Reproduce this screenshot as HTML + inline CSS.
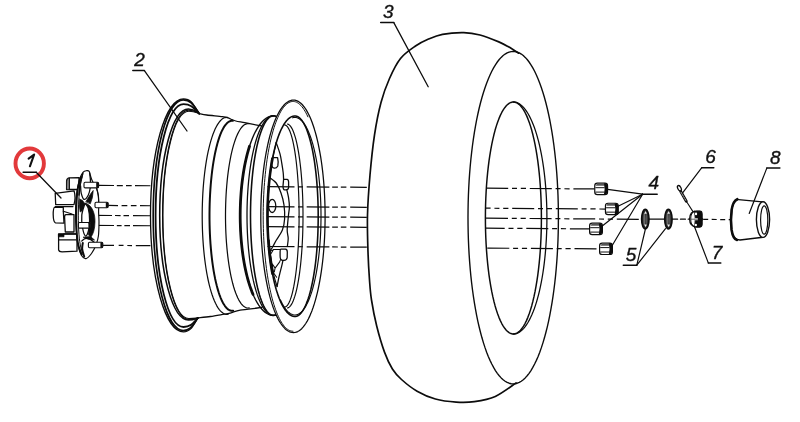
<!DOCTYPE html>
<html><head><meta charset="utf-8"><style>
html,body{margin:0;padding:0;background:#fff;width:800px;height:422px;overflow:hidden}
svg{display:block;filter:blur(0.3px)}
text{font-family:"Liberation Sans",sans-serif}
</style></head><body>
<svg width="800" height="422" viewBox="0 0 800 422" stroke-linecap="round" stroke-linejoin="round">
<rect width="800" height="422" fill="#fff"/>
<path d="M518.60,53.20 C516.92,52.13 511.80,48.68 508.50,46.80 C505.20,44.92 503.55,43.87 498.80,41.90 C494.05,39.93 485.83,36.55 480.00,35.00 C474.17,33.45 470.05,32.72 463.80,32.60 C457.55,32.48 448.47,33.18 442.50,34.30 C436.53,35.42 432.50,37.35 428.00,39.30 C423.50,41.25 420.08,42.80 415.50,46.00 C410.92,49.20 404.83,53.08 400.50,58.50 C396.17,63.92 392.75,71.17 389.50,78.50 C386.25,85.83 383.50,93.08 381.00,102.50 C378.50,111.92 376.33,122.92 374.50,135.00 C372.67,147.08 371.17,161.67 370.00,175.00 C368.83,188.33 367.83,202.17 367.50,215.00 C367.17,227.83 367.67,241.17 368.00,252.00 C368.33,262.83 368.92,272.00 369.50,280.00 C370.08,288.00 370.30,292.33 371.50,300.00 C372.70,307.67 374.53,317.32 376.70,326.00 C378.87,334.68 381.88,344.93 384.50,352.10 C387.12,359.27 389.57,364.43 392.40,369.00 C395.23,373.57 397.38,375.80 401.50,379.50 C405.62,383.20 411.45,387.95 417.10,391.20 C422.75,394.45 428.88,397.18 435.40,399.00 C441.92,400.82 449.70,401.67 456.20,402.10 C462.70,402.53 467.88,402.55 474.40,401.60 C480.92,400.65 488.35,399.52 495.30,396.40 C502.25,393.28 512.63,385.15 516.10,382.90" fill="none" stroke="#0c0c0c" stroke-width="1.68" />
<path d="M558.40,217.65 L558.35,225.11 L558.22,232.55 L557.99,239.97 L557.67,247.34 L557.27,254.64 L556.77,261.88 L556.19,269.02 L555.52,276.07 L554.76,282.99 L553.92,289.78 L553.00,296.43 L552.00,302.92 L550.92,309.24 L549.77,315.37 L548.54,321.31 L547.24,327.03 L545.87,332.54 L544.44,337.81 L542.94,342.85 L541.38,347.63 L539.77,352.15 L538.10,356.40 L536.38,360.37 L534.62,364.05 L532.81,367.44 L530.96,370.52 L529.08,373.30 L527.17,375.76 L525.22,377.91 L523.26,379.73 L521.27,381.23 L519.27,382.40 L517.25,383.23 L515.23,383.73 L513.20,383.90 L511.17,383.73 L509.15,383.23 L507.13,382.40 L505.13,381.23 L503.14,379.73 L501.18,377.91 L499.23,375.76 L497.32,373.30 L495.44,370.52 L493.59,367.44 L491.78,364.05 L490.02,360.37 L488.30,356.40 L486.63,352.15 L485.02,347.63 L483.46,342.85 L481.96,337.81 L480.53,332.54 L479.16,327.03 L477.86,321.31 L476.63,315.37 L475.48,309.24 L474.40,302.92 L473.40,296.43 L472.48,289.78 L471.64,282.99 L470.88,276.07 L470.21,269.02 L469.63,261.88 L469.13,254.64 L468.73,247.34 L468.41,239.97 L468.18,232.55 L468.05,225.11 L468.00,217.65 L468.05,210.19 L468.18,202.75 L468.41,195.33 L468.73,187.96 L469.13,180.66 L469.63,173.42 L470.21,166.28 L470.88,159.23 L471.64,152.31 L472.48,145.52 L473.40,138.87 L474.40,132.38 L475.48,126.06 L476.63,119.93 L477.86,113.99 L479.16,108.27 L480.53,102.76 L481.96,97.49 L483.46,92.45 L485.02,87.67 L486.63,83.15 L488.30,78.90 L490.02,74.93 L491.78,71.25 L493.59,67.86 L495.44,64.78 L497.32,62.00 L499.23,59.54 L501.18,57.39 L503.14,55.57 L505.13,54.07 L507.13,52.90 L509.15,52.07 L511.17,51.57 L513.20,51.40 L515.23,51.57 L517.25,52.07 L519.27,52.90 L521.27,54.07 L523.26,55.57 L525.22,57.39 L527.17,59.54 L529.08,62.00 L530.96,64.78 L532.81,67.86 L534.62,71.25 L536.38,74.93 L538.10,78.90 L539.77,83.15 L541.38,87.67 L542.94,92.45 L544.44,97.49 L545.87,102.76 L547.24,108.27 L548.54,113.99 L549.77,119.93 L550.92,126.06 L552.00,132.38 L553.00,138.87 L553.92,145.52 L554.76,152.31 L555.52,159.23 L556.19,166.28 L556.77,173.42 L557.27,180.66 L557.67,187.96 L557.99,195.33 L558.22,202.75 L558.35,210.19 L558.40,217.65" fill="none" stroke="#0c0c0c" stroke-width="1.38" />
<path d="M541.40,218.00 L541.35,224.62 L541.22,231.22 L540.99,237.78 L540.67,244.27 L540.27,250.68 L539.77,256.98 L539.19,263.16 L538.53,269.18 L537.78,275.04 L536.96,280.71 L536.05,286.18 L535.08,291.43 L534.03,296.44 L532.91,301.19 L531.74,305.67 L530.50,309.86 L529.20,313.75 L527.86,317.34 L526.47,320.59 L525.03,323.52 L523.56,326.10 L522.05,328.32 L520.52,330.19 L518.96,331.69 L517.38,332.82 L515.80,333.57 L514.20,333.95 L512.60,333.95 L511.00,333.57 L509.42,332.82 L507.84,331.69 L506.28,330.19 L504.75,328.32 L503.24,326.10 L501.77,323.52 L500.33,320.59 L498.94,317.34 L497.60,313.75 L496.30,309.86 L495.06,305.67 L493.89,301.19 L492.77,296.44 L491.72,291.43 L490.75,286.18 L489.84,280.71 L489.02,275.04 L488.27,269.18 L487.61,263.16 L487.03,256.98 L486.53,250.68 L486.13,244.27 L485.81,237.78 L485.58,231.22 L485.45,224.62 L485.40,218.00 L485.45,211.38 L485.58,204.78 L485.81,198.22 L486.13,191.73 L486.53,185.32 L487.03,179.02 L487.61,172.84 L488.27,166.82 L489.02,160.96 L489.84,155.29 L490.75,149.82 L491.72,144.57 L492.77,139.56 L493.89,134.81 L495.06,130.33 L496.30,126.14 L497.60,122.25 L498.94,118.66 L500.33,115.41 L501.77,112.48 L503.24,109.90 L504.75,107.68 L506.28,105.81 L507.84,104.31 L509.42,103.18 L511.00,102.43 L512.60,102.05 L514.20,102.05 L515.80,102.43 L517.38,103.18 L518.96,104.31 L520.52,105.81 L522.05,107.68 L523.56,109.90 L525.03,112.48 L526.47,115.41 L527.86,118.66 L529.20,122.25 L530.50,126.14 L531.74,130.33 L532.91,134.81 L534.03,139.56 L535.08,144.57 L536.05,149.82 L536.96,155.29 L537.78,160.96 L538.53,166.82 L539.19,172.84 L539.77,179.02 L540.27,185.32 L540.67,191.73 L540.99,198.22 L541.22,204.78 L541.35,211.38 L541.40,218.00" fill="none" stroke="#0c0c0c" stroke-width="1.48" />
<path d="M513.40,102.00 L514.90,102.12 L516.40,102.47 L517.90,103.05 L519.38,103.86 L520.85,104.91 L522.31,106.18 L523.75,107.68 L525.17,109.40 L526.57,111.33 L527.94,113.49 L529.27,115.85 L530.58,118.42 L531.86,121.19 L533.09,124.15 L534.29,127.31 L535.44,130.64 L536.55,134.16 L537.61,137.84 L538.63,141.68 L539.59,145.68 L540.50,149.82 L541.36,154.10 L542.16,158.50 L542.90,163.03 L543.58,167.67 L544.20,172.41 L544.76,177.24 L545.26,182.15 L545.69,187.14 L546.06,192.19 L546.36,197.29 L546.60,202.43 L546.77,207.60 L546.87,212.80 L546.90,218.00 L546.87,223.20 L546.77,228.40 L546.60,233.57 L546.36,238.71 L546.06,243.81 L545.69,248.86 L545.26,253.85 L544.76,258.76 L544.20,263.59 L543.58,268.33 L542.90,272.97 L542.16,277.50 L541.36,281.90 L540.50,286.18 L539.59,290.32 L538.63,294.32 L537.61,298.16 L536.55,301.84 L535.44,305.36 L534.29,308.69 L533.09,311.85 L531.86,314.81 L530.58,317.58 L529.27,320.15 L527.94,322.51 L526.57,324.67 L525.17,326.60 L523.75,328.32 L522.31,329.82 L520.85,331.09 L519.38,332.14 L517.90,332.95 L516.40,333.53 L514.90,333.88 L513.40,334.00" fill="none" stroke="#0c0c0c" stroke-width="1.28" />
<path d="M197.80,318.00 C192.80,326.28 190.65,331.80 183.50,331.80 A33.00,116.30 0 0 1 150.50,215.50 A33.00,116.70 0 0 1 183.50,98.80 C191.35,98.80 193.70,104.72 199.20,113.60" fill="none" stroke="#0c0c0c" stroke-width="1.33" />
<path d="M197.80,318.00 C192.69,325.50 190.50,330.50 183.20,330.50 A30.00,115.00 0 0 1 153.20,215.50 A30.00,115.60 0 0 1 183.20,99.90 C191.20,99.90 193.60,105.38 199.20,113.60" fill="none" stroke="#0c0c0c" stroke-width="1.68" />
<path d="M197.80,318.00 C192.83,323.40 190.70,327.00 183.60,327.00 A28.00,111.50 0 0 1 155.60,215.50 A28.00,111.30 0 0 1 183.60,104.20 C191.40,104.20 193.74,107.96 199.20,113.60" fill="none" stroke="#0c0c0c" stroke-width="1.78" />
<path d="M197.80,318.00 C194.51,319.20 193.10,320.00 188.40,320.00 A28.70,104.50 0 0 1 159.70,215.50 A28.70,106.40 0 0 1 188.40,109.10 C193.80,109.10 195.42,110.90 199.20,113.60" fill="none" stroke="#0c0c0c" stroke-width="1.53" />
<path d="M197.80,318.00 C194.58,318.78 193.20,319.30 188.60,319.30 A26.00,103.80 0 0 1 162.60,215.50 A26.00,105.40 0 0 1 188.60,110.10 C193.90,110.10 195.49,111.50 199.20,113.60" fill="none" stroke="#0c0c0c" stroke-width="1.18" />
<path d="M197.80,318.00 C194.65,318.30 193.30,318.50 188.80,318.50 A25.90,103.00 0 0 1 162.90,215.50 A25.90,104.20 0 0 1 188.80,111.30 C194.00,111.30 195.56,112.22 199.20,113.60" fill="none" stroke="#0c0c0c" stroke-width="1.08" />
<path d="M199.20,113.60 C200.47,113.83 202.95,114.48 206.80,115.00 C210.65,115.52 218.73,116.22 222.30,116.70 C225.87,117.18 226.58,117.42 228.20,117.90 C229.82,118.38 230.73,119.08 232.00,119.60 C233.27,120.12 233.67,120.48 235.80,121.00 C237.93,121.52 241.05,121.97 244.80,122.70 C248.55,123.43 255.43,124.85 258.30,125.40 C261.17,125.95 261.38,125.90 262.00,126.00" fill="none" stroke="#0c0c0c" stroke-width="1.28" />
<path d="M197.80,318.00 C199.90,317.75 206.00,317.13 210.40,316.50 C214.80,315.87 221.27,314.68 224.20,314.20 C227.13,313.72 226.75,313.87 228.00,313.60 C229.25,313.33 229.67,313.17 231.70,312.60 C233.73,312.03 235.93,310.97 240.20,310.20 C244.47,309.43 253.67,308.47 257.30,308.00 C260.93,307.53 261.22,307.50 262.00,307.40" fill="none" stroke="#0c0c0c" stroke-width="1.28" />
<path d="M228.09,314.17 L226.79,314.30 L225.48,314.16 L224.19,313.74 L222.90,313.05 L221.62,312.09 L220.35,310.86 L219.10,309.36 L217.88,307.60 L216.68,305.58 L215.51,303.31 L214.37,300.79 L213.26,298.04 L212.19,295.06 L211.17,291.85 L210.18,288.43 L209.25,284.81 L208.36,280.99 L207.52,277.00 L206.74,272.83 L206.02,268.50 L205.35,264.02 L204.74,259.41 L204.20,254.68 L203.72,249.83 L203.30,244.89 L202.95,239.88 L202.66,234.79 L202.44,229.65 L202.30,224.47 L202.22,219.27 L202.20,214.05 L202.26,208.84 L202.39,203.66 L202.58,198.50 L202.84,193.40 L203.17,188.35 L203.57,183.39 L204.03,178.51 L204.56,173.74 L205.14,169.08 L205.79,164.56 L206.50,160.18 L207.26,155.96 L208.08,151.90 L208.95,148.03 L209.87,144.34 L210.84,140.85 L211.85,137.58 L212.90,134.52 L214.00,131.69 L215.13,129.10 L216.29,126.74 L217.48,124.64 L218.70,122.80 L219.94,121.21 L221.20,119.89 L222.47,118.84 L223.76,118.05 L225.06,117.55 L226.36,117.32 L227.66,117.36" fill="none" stroke="#0c0c0c" stroke-width="1.23" />
<path d="M233.18,310.67 L231.99,310.80 L230.80,310.66 L229.61,310.26 L228.43,309.60 L227.26,308.67 L226.10,307.48 L224.96,306.03 L223.84,304.33 L222.74,302.39 L221.67,300.20 L220.63,297.77 L219.62,295.12 L218.64,292.24 L217.70,289.15 L216.80,285.85 L215.95,282.36 L215.13,278.68 L214.37,274.82 L213.65,270.80 L212.99,266.63 L212.38,262.31 L211.83,257.86 L211.33,253.29 L210.89,248.62 L210.50,243.86 L210.18,239.02 L209.92,234.11 L209.72,229.16 L209.59,224.16 L209.51,219.14 L209.50,214.11 L209.56,209.09 L209.67,204.09 L209.85,199.12 L210.09,194.19 L210.39,189.33 L210.75,184.54 L211.17,179.83 L211.65,175.23 L212.19,170.74 L212.78,166.38 L213.43,162.16 L214.13,158.09 L214.88,154.17 L215.67,150.44 L216.51,146.88 L217.40,143.52 L218.33,140.36 L219.29,137.41 L220.29,134.68 L221.32,132.18 L222.39,129.91 L223.48,127.88 L224.59,126.10 L225.72,124.57 L226.88,123.30 L228.04,122.28 L229.22,121.53 L230.40,121.04 L231.59,120.82 L232.79,120.86" fill="none" stroke="#0c0c0c" stroke-width="1.98" />
<path d="M249.18,307.87 L247.99,308.00 L246.80,307.87 L245.61,307.48 L244.43,306.83 L243.26,305.93 L242.10,304.78 L240.96,303.37 L239.84,301.72 L238.74,299.83 L237.67,297.71 L236.63,295.36 L235.62,292.78 L234.64,289.99 L233.70,286.99 L232.80,283.79 L231.95,280.40 L231.13,276.82 L230.37,273.08 L229.65,269.18 L228.99,265.13 L228.38,260.94 L227.83,256.62 L227.33,252.19 L226.89,247.66 L226.50,243.03 L226.18,238.34 L225.92,233.57 L225.72,228.76 L225.59,223.91 L225.51,219.04 L225.50,214.16 L225.56,209.29 L225.67,204.43 L225.85,199.61 L226.09,194.83 L226.39,190.11 L226.75,185.46 L227.17,180.89 L227.65,176.43 L228.19,172.07 L228.78,167.84 L229.43,163.74 L230.13,159.79 L230.88,155.99 L231.67,152.36 L232.51,148.91 L233.40,145.65 L234.33,142.58 L235.29,139.72 L236.29,137.07 L237.32,134.64 L238.39,132.44 L239.48,130.47 L240.59,128.74 L241.72,127.26 L242.88,126.02 L244.04,125.04 L245.22,124.31 L246.40,123.83 L247.59,123.61 L248.79,123.66" fill="none" stroke="#0c0c0c" stroke-width="1.23" />
<path d="M288.99,303.72 L287.42,306.06 L285.82,308.15 L284.19,309.99 L282.52,311.56 L280.83,312.87 L279.12,313.91 L277.39,314.68 L275.65,315.17 L273.90,315.39 L272.16,315.33 L270.41,315.00 L268.68,314.39 L266.96,313.50 L265.25,312.35 L263.57,310.93 L261.92,309.24 L260.30,307.30 L258.71,305.10 L257.16,302.65 L255.66,299.97 L254.21,297.05 L252.81,293.90 L251.47,290.54 L250.19,286.97 L248.98,283.20 L247.83,279.25 L246.75,275.12 L245.75,270.82 L244.82,266.37 L243.97,261.78 L243.20,257.07 L242.52,252.24 L241.92,247.30 L241.41,242.28 L240.99,237.19 L240.65,232.03 L240.41,226.83 L240.26,221.60 L240.20,216.36 L240.23,211.11 L240.36,205.87 L240.57,200.66 L240.88,195.49 L241.28,190.38 L241.76,185.34 L242.34,180.38 L243.00,175.52 L243.74,170.76 L244.56,166.14 L245.47,161.65 L246.45,157.31 L247.51,153.13 L248.64,149.12 L249.84,145.30 L251.10,141.67 L252.42,138.25 L253.80,135.04 L255.24,132.05 L256.73,129.30 L258.26,126.78 L259.83,124.51 L261.45,122.49 L263.09,120.73 L264.77,119.23 L266.46,118.00 L268.18,117.04 L269.91,116.35 L271.65,115.94 L273.40,115.80" fill="none" stroke="#0c0c0c" stroke-width="1.38" />
<path d="M252.96,294.24 L251.88,291.60 L250.84,288.83 L249.84,285.92 L248.88,282.90 L247.97,279.75 L247.10,276.49 L246.27,273.13 L245.49,269.66 L244.76,266.10 L244.09,262.45 L243.46,258.72 L242.88,254.92 L242.36,251.04 L241.90,247.10 L241.49,243.11 L241.13,239.07 L240.83,234.98 L240.59,230.87 L240.41,226.72 L240.28,222.56 L240.21,218.39 L240.20,214.21 L240.25,210.03 L240.36,205.86 L240.52,201.71 L240.75,197.58 L241.03,193.49 L241.36,189.43 L241.75,185.42 L242.20,181.47 L242.71,177.57 L243.26,173.74 L243.87,169.98 L244.53,166.30 L245.24,162.71 L246.01,159.22 L246.82,155.82 L247.67,152.52 L248.57,149.34 L249.52,146.27" fill="none" stroke="#0c0c0c" stroke-width="2.78" />
<path d="M275.70,315.02 L274.31,315.34 L272.91,315.38 L271.52,315.15 L270.13,314.63 L268.75,313.84 L267.39,312.78 L266.04,311.44 L264.71,309.83 L263.40,307.97 L262.13,305.84 L260.88,303.46 L259.67,300.84 L258.50,297.98 L257.37,294.89 L256.28,291.58 L255.24,288.05 L254.26,284.32 L253.32,280.41 L252.45,276.31 L251.63,272.04 L250.87,267.61 L250.17,263.04 L249.54,258.33 L248.98,253.51 L248.48,248.58 L248.06,243.56 L247.70,238.46 L247.42,233.29 L247.21,228.08 L247.07,222.83 L247.01,217.56 L247.01,212.29 L247.10,207.02 L247.25,201.78 L247.48,196.58 L247.79,191.43 L248.16,186.35 L248.60,181.35 L249.12,176.45 L249.70,171.65 L250.34,166.98 L251.06,162.44 L251.83,158.06 L252.66,153.83 L253.56,149.77 L254.50,145.90 L255.50,142.23 L256.56,138.76 L257.65,135.50 L258.79,132.47 L259.98,129.67 L261.20,127.10 L262.45,124.79 L263.73,122.73 L265.04,120.93 L266.38,119.39 L267.73,118.13 L269.10,117.13 L270.49,116.41 L271.88,115.97 L273.27,115.80 L274.67,115.91 L276.06,116.31 L277.44,116.98 L278.81,117.92 L280.17,119.14 L281.51,120.62 L282.82,122.38 L284.11,124.39 L285.37,126.66 L286.60,129.17" fill="none" stroke="#0c0c0c" stroke-width="1.28" />
<path d="M275.40,315.02 L274.19,315.34 L272.98,315.38 L271.77,315.15 L270.56,314.63 L269.37,313.84 L268.18,312.78 L267.01,311.44 L265.86,309.83 L264.73,307.97 L263.62,305.84 L262.54,303.46 L261.49,300.84 L260.47,297.98 L259.49,294.89 L258.55,291.58 L257.65,288.05 L256.79,284.32 L255.98,280.41 L255.22,276.31 L254.51,272.04 L253.86,267.61 L253.25,263.04 L252.71,258.33 L252.22,253.51 L251.79,248.58 L251.42,243.56 L251.11,238.46 L250.86,233.29 L250.68,228.08 L250.56,222.83 L250.50,217.56 L250.51,212.29 L250.58,207.02 L250.72,201.78 L250.92,196.58 L251.18,191.43 L251.51,186.35 L251.89,181.35 L252.34,176.45 L252.84,171.65 L253.40,166.98 L254.02,162.44 L254.69,158.06 L255.41,153.83 L256.19,149.77 L257.01,145.90 L257.88,142.23 L258.79,138.76 L259.74,135.50 L260.73,132.47 L261.76,129.67 L262.81,127.10 L263.90,124.79 L265.01,122.73 L266.15,120.93 L267.31,119.39 L268.48,118.13 L269.67,117.13 L270.87,116.41 L272.08,115.97 L273.29,115.80 L274.50,115.91 L275.70,116.31 L276.90,116.98 L278.10,117.92 L279.27,119.14 L280.43,120.62 L281.58,122.38 L282.69,124.39 L283.79,126.66 L284.85,129.17" fill="none" stroke="#0c0c0c" stroke-width="1.58" />
<path d="M325.10,216.35 L325.07,221.57 L324.97,226.77 L324.81,231.95 L324.59,237.11 L324.31,242.22 L323.96,247.28 L323.55,252.27 L323.09,257.20 L322.56,262.04 L321.97,266.79 L321.33,271.44 L320.63,275.97 L319.87,280.39 L319.06,284.68 L318.21,288.83 L317.30,292.84 L316.34,296.69 L315.34,300.37 L314.29,303.89 L313.20,307.24 L312.07,310.40 L310.91,313.37 L309.71,316.14 L308.47,318.72 L307.21,321.09 L305.92,323.25 L304.60,325.19 L303.26,326.91 L301.91,328.41 L300.53,329.69 L299.14,330.73 L297.74,331.55 L296.33,332.13 L294.92,332.48 L293.50,332.60 L292.03,332.48 L290.57,332.13 L289.11,331.55 L287.66,330.73 L286.22,329.69 L284.80,328.41 L283.40,326.91 L282.01,325.19 L280.65,323.25 L279.31,321.09 L278.00,318.72 L276.73,316.14 L275.49,313.37 L274.28,310.40 L273.11,307.24 L271.99,303.89 L270.90,300.37 L269.86,296.69 L268.87,292.84 L267.93,288.83 L267.05,284.68 L266.21,280.39 L265.43,275.97 L264.70,271.44 L264.04,266.79 L263.43,262.04 L262.89,257.20 L262.40,252.27 L261.98,247.28 L261.62,242.22 L261.33,237.11 L261.10,231.95 L260.93,226.77 L260.83,221.57 L260.80,216.35 L260.83,211.13 L260.93,205.93 L261.10,200.75 L261.33,195.59 L261.62,190.48 L261.98,185.42 L262.40,180.43 L262.89,175.50 L263.43,170.66 L264.04,165.91 L264.70,161.26 L265.43,156.73 L266.21,152.31 L267.05,148.02 L267.93,143.87 L268.87,139.86 L269.86,136.01 L270.90,132.33 L271.99,128.81 L273.11,125.46 L274.28,122.30 L275.49,119.33 L276.73,116.56 L278.00,113.98 L279.31,111.61 L280.65,109.45 L282.01,107.51 L283.40,105.79 L284.80,104.29 L286.22,103.01 L287.66,101.97 L289.11,101.15 L290.57,100.57 L292.03,100.22 L293.50,100.10 L294.92,100.22 L296.33,100.57 L297.74,101.15 L299.14,101.97 L300.53,103.01 L301.91,104.29 L303.26,105.79 L304.60,107.51 L305.92,109.45 L307.21,111.61 L308.47,113.98 L309.71,116.56 L310.91,119.33 L312.07,122.30 L313.20,125.46 L314.29,128.81 L315.34,132.33 L316.34,136.01 L317.30,139.86 L318.21,143.87 L319.06,148.02 L319.87,152.31 L320.63,156.73 L321.33,161.26 L321.97,165.91 L322.56,170.66 L323.09,175.50 L323.55,180.43 L323.96,185.42 L324.31,190.48 L324.59,195.59 L324.81,200.75 L324.97,205.93 L325.07,211.13 L325.10,216.35 Z" fill="#fff" stroke="#0c0c0c" stroke-width="1.28" />
<path d="M293.00,331.25 L291.91,331.17 L290.82,330.94 L289.73,330.56 L288.65,330.02 L287.57,329.33 L286.50,328.48 L285.44,327.49 L284.39,326.35 L283.35,325.06 L282.32,323.62 L281.31,322.04 L280.31,320.31 L279.33,318.45 L278.37,316.45 L277.43,314.32 L276.51,312.05 L275.61,309.66 L274.74,307.14 L273.88,304.50 L273.06,301.74 L272.26,298.86 L271.49,295.88 L270.75,292.78 L270.04,289.59 L269.36,286.30 L268.71,282.91 L268.09,279.43 L267.51,275.87 L266.96,272.23 L266.45,268.51 L265.97,264.73 L265.53,260.88 L265.12,256.96 L264.76,253.00 L264.43,248.98 L264.14,244.92 L263.88,240.83 L263.67,236.70 L263.50,232.54 L263.36,228.36 L263.27,224.16 L263.21,219.96 L263.20,215.75 L263.23,211.54 L263.29,207.34 L263.40,203.14 L263.54,198.97 L263.73,194.82 L263.95,190.70 L264.22,186.61 L264.52,182.56 L264.86,178.56 L265.24,174.61 L265.65,170.72 L266.10,166.88 L266.59,163.12 L267.11,159.42 L267.67,155.80 L268.27,152.27 L268.89,148.81 L269.55,145.45 L270.24,142.19 L270.96,139.02 L271.71,135.96 L272.49,133.00 L273.29,130.16 L274.13,127.44 L274.98,124.83 L275.86,122.34 L276.77,119.99 L277.70,117.76 L278.64,115.66 L279.61,113.70 L280.59,111.88 L281.60,110.20 L282.61,108.66 L283.64,107.26 L284.69,106.01 L285.74,104.91 L286.80,103.96 L287.88,103.16 L288.96,102.51 L290.04,102.02 L291.13,101.68 L292.22,101.49 L293.31,101.46 L294.40,101.58 L295.49,101.85 L296.58,102.28 L297.66,102.86 L298.74,103.60 L299.80,104.49 L300.86,105.52 L301.91,106.71 L302.95,108.04 L303.97,109.52 L304.98,111.14 L305.97,112.90 L306.94,114.81 L307.90,116.84" fill="none" stroke="#0c0c0c" stroke-width="0.98" />
<path d="M318.20,216.20 L318.17,221.05 L318.09,225.88 L317.96,230.69 L317.77,235.47 L317.53,240.20 L317.23,244.88 L316.88,249.49 L316.49,254.02 L316.04,258.47 L315.54,262.81 L315.00,267.05 L314.41,271.17 L313.77,275.15 L313.09,279.01 L312.37,282.71 L311.60,286.26 L310.80,289.65 L309.96,292.86 L309.09,295.90 L308.18,298.75 L307.24,301.40 L306.27,303.86 L305.28,306.11 L304.27,308.15 L303.23,309.98 L302.17,311.59 L301.09,312.98 L300.01,314.14 L298.91,315.07 L297.80,315.77 L296.68,316.24 L295.56,316.47 L294.34,316.47 L293.01,316.24 L291.69,315.77 L290.37,315.07 L289.07,314.14 L287.78,312.98 L286.50,311.59 L285.25,309.98 L284.02,308.15 L282.81,306.11 L281.64,303.86 L280.49,301.40 L279.38,298.75 L278.30,295.90 L277.27,292.86 L276.27,289.65 L275.32,286.26 L274.42,282.71 L273.56,279.01 L272.75,275.15 L272.00,271.17 L271.30,267.05 L270.65,262.81 L270.06,258.47 L269.53,254.02 L269.06,249.49 L268.65,244.88 L268.30,240.20 L268.01,235.47 L267.79,230.69 L267.63,225.88 L267.53,221.05 L267.50,216.20 L267.53,211.35 L267.63,206.52 L267.79,201.71 L268.01,196.93 L268.30,192.20 L268.65,187.52 L269.06,182.91 L269.53,178.38 L270.06,173.93 L270.65,169.59 L271.30,165.35 L272.00,161.23 L272.75,157.25 L273.56,153.39 L274.42,149.69 L275.32,146.14 L276.27,142.75 L277.27,139.54 L278.30,136.50 L279.38,133.65 L280.49,131.00 L281.64,128.54 L282.81,126.29 L284.02,124.25 L285.25,122.42 L286.50,120.81 L287.78,119.42 L289.07,118.26 L290.37,117.33 L291.69,116.63 L293.01,116.16 L294.34,115.93 L295.56,115.93 L296.68,116.16 L297.80,116.63 L298.91,117.33 L300.01,118.26 L301.09,119.42 L302.17,120.81 L303.23,122.42 L304.27,124.25 L305.28,126.29 L306.27,128.54 L307.24,131.00 L308.18,133.65 L309.09,136.50 L309.96,139.54 L310.80,142.75 L311.60,146.14 L312.37,149.69 L313.09,153.39 L313.77,157.25 L314.41,161.23 L315.00,165.35 L315.54,169.59 L316.04,173.93 L316.49,178.38 L316.88,182.91 L317.23,187.52 L317.53,192.20 L317.77,196.93 L317.96,201.71 L318.09,206.52 L318.17,211.35 L318.20,216.20 Z" fill="#fff" stroke="#0c0c0c" stroke-width="1.58" />
<path d="M292.60,117.78 L293.76,117.50 L294.91,117.40 L296.01,117.48 L297.11,117.72 L298.19,118.15 L299.28,118.75 L300.35,119.52 L301.42,120.46 L302.47,121.57 L303.51,122.85 L304.54,124.29 L305.55,125.90 L306.54,127.66 L307.51,129.58 L308.46,131.66 L309.38,133.89 L310.28,136.26 L311.15,138.77 L311.99,141.42 L312.81,144.20 L313.59,147.11 L314.34,150.15 L315.05,153.30 L315.73,156.56 L316.37,159.92 L316.97,163.39 L317.54,166.95 L318.06,170.60 L318.55,174.32 L318.99,178.13 L319.39,181.99 L319.75,185.92 L320.06,189.91 L320.33,193.94 L320.56,198.01 L320.73,202.11 L320.87,206.23 L320.95,210.38 L321.00,214.53 L320.99,218.69 L320.94,222.84 L320.84,226.98 L320.70,231.11 L320.51,235.20 L320.28,239.26 L320.00,243.29 L319.68,247.26 L319.32,251.18 L318.91,255.03 L318.46,258.82 L317.96,262.53 L317.43,266.16 L316.86,269.70 L316.25,273.15 L315.60,276.50 L314.91,279.74 L314.19,282.86 L313.43,285.87 L312.65,288.76 L311.83,291.51 L310.98,294.14 L310.10,296.62 L309.20,298.97 L308.27,301.16 L307.32,303.21 L306.34,305.10 L305.35,306.84 L304.34,308.41 L303.31,309.82 L302.26,311.07 L301.21,312.14 L300.14,313.05 L299.06,313.79 L297.98,314.35 L296.89,314.74 L295.80,314.95 L294.69,314.99 L293.53,314.86 L292.37,314.55 L291.23,314.06 L290.08,313.41 L288.95,312.58 L287.83,311.58 L286.72,310.41 L285.62,309.07 L284.54,307.57 L283.48,305.91 L282.44,304.09 L281.42,302.12 L280.43,299.99" fill="none" stroke="#0c0c0c" stroke-width="1.18" />
<path d="M284.60,125.00 L285.36,125.12 L286.12,125.50 L286.87,126.12 L287.61,126.99 L288.35,128.10 L289.08,129.45 L289.80,131.04 L290.50,132.87 L291.18,134.92 L291.85,137.19 L292.50,139.68 L293.12,142.38 L293.73,145.28 L294.30,148.37 L294.85,151.65 L295.38,155.11 L295.87,158.73 L296.33,162.51 L296.76,166.44 L297.16,170.50 L297.52,174.69 L297.85,178.99 L298.14,183.39 L298.39,187.88 L298.61,192.45 L298.78,197.08 L298.92,201.76 L299.02,206.49 L299.08,211.24 L299.10,216.00 L299.08,220.76 L299.02,225.51 L298.92,230.24 L298.78,234.92 L298.61,239.55 L298.39,244.12 L298.14,248.61 L297.85,253.01 L297.52,257.31 L297.16,261.50 L296.76,265.56 L296.33,269.49 L295.87,273.27 L295.38,276.89 L294.85,280.35 L294.30,283.63 L293.73,286.72 L293.12,289.62 L292.50,292.32 L291.85,294.81 L291.18,297.08 L290.50,299.13 L289.80,300.96 L289.08,302.55 L288.35,303.90 L287.61,305.01 L286.87,305.88 L286.12,306.50 L285.36,306.88 L284.60,307.00" fill="none" stroke="#0c0c0c" stroke-width="1.18" />
<path d="M287.56,124.06 L288.38,124.34 L289.19,124.87 L290.00,125.63 L290.80,126.63 L291.59,127.86 L292.37,129.33 L293.13,131.02 L293.88,132.94 L294.61,135.07 L295.32,137.42 L296.01,139.97 L296.67,142.72 L297.31,145.66 L297.93,148.79 L298.51,152.09 L299.06,155.56 L299.59,159.19 L300.07,162.97 L300.53,166.88 L300.95,170.93 L301.33,175.09 L301.68,179.36 L301.98,183.73 L302.25,188.18 L302.48,192.71 L302.67,197.29 L302.81,201.93 L302.92,206.60 L302.98,211.29 L303.00,216.00 L302.98,220.71 L302.92,225.40 L302.81,230.07 L302.67,234.71 L302.48,239.29 L302.25,243.82 L301.98,248.27 L301.68,252.64 L301.33,256.91 L300.95,261.07 L300.53,265.12 L300.07,269.03 L299.59,272.81 L299.06,276.44 L298.51,279.91 L297.93,283.21 L297.31,286.34 L296.67,289.28 L296.01,292.03 L295.32,294.58 L294.61,296.93 L293.88,299.06 L293.13,300.98 L292.37,302.67 L291.59,304.14 L290.80,305.37 L290.00,306.37 L289.19,307.13 L288.38,307.66 L287.56,307.94" fill="none" stroke="#0c0c0c" stroke-width="1.18" />
<path d="M276.20,142.60 C276.83,144.48 279.07,150.43 280.00,153.90 C280.93,157.37 281.27,160.25 281.80,163.40 C282.33,166.55 282.90,170.13 283.20,172.80 C283.50,175.47 283.53,178.30 283.60,179.40" fill="none" stroke="#0c0c0c" stroke-width="1.28" />
<path d="M283.6,179.4 L287,179.4 Q288.6,179.6 288.6,182 L288.6,187.5 Q288.4,189.8 286,189.8 L284.5,189.8 Q283,189.8 283,186 Z" fill="#fff" stroke="#0c0c0c" stroke-width="1.28" />
<path d="M286.80,189.80 C287.08,191.07 288.07,194.57 288.50,197.40 C288.93,200.23 289.40,203.87 289.40,206.80 C289.40,209.73 288.87,211.12 288.50,215.00 C288.13,218.88 287.25,226.23 287.20,230.10 C287.15,233.97 288.17,235.55 288.20,238.20 C288.23,240.85 287.53,244.70 287.40,246.00" fill="none" stroke="#0c0c0c" stroke-width="1.28" />
<path d="M281,249.2 L285.5,249.2 Q287.3,249.5 287.3,252 L287.2,257.5 Q286.8,260.3 284,260.3 L282.3,260.3 Q280.1,260 280.1,256 L280.1,252 Q280.2,249.2 281,249.2 Z" fill="#fff" stroke="#0c0c0c" stroke-width="1.28" />
<path d="M283.00,260.30 C282.85,260.97 282.75,261.62 282.10,264.30 C281.45,266.98 279.93,272.70 279.10,276.40 C278.27,280.10 277.43,284.82 277.10,286.50" fill="none" stroke="#0c0c0c" stroke-width="1.28" />
<path d="M276.20,142.60 C275.72,144.80 274.08,152.03 273.30,155.80 C272.52,159.57 271.80,163.63 271.50,165.20" fill="none" stroke="#0c0c0c" stroke-width="1.18" />
<path d="M269.20,240.20 C269.50,243.55 270.18,254.27 271.00,260.30 C271.82,266.33 273.08,272.03 274.10,276.40 C275.12,280.77 276.60,284.82 277.10,286.50" fill="none" stroke="#0c0c0c" stroke-width="1.18" />
<path d="M269.60,177.50 C270.70,178.42 274.30,180.42 276.20,183.00 C278.10,185.58 279.70,189.33 281.00,193.00 C282.30,196.67 283.40,200.67 284.00,205.00 C284.60,209.33 284.87,214.83 284.60,219.00 C284.33,223.17 283.77,226.50 282.40,230.00 C281.03,233.50 278.03,237.17 276.40,240.00 C274.77,242.83 273.67,245.17 272.60,247.00 C271.53,248.83 270.43,250.33 270.00,251.00" fill="none" stroke="#0c0c0c" stroke-width="1.28" />
<path d="M268.9,251.9 L273.5,249.6 L280.5,249.6 M270.5,254.2 L272,263.5 L275.1,268.1 L279.7,261.9 L280.5,259.6 M272,263.5 L273.5,272.7 L276.6,277.3 M275.1,268.1 L274.3,272 M273.5,249.6 L270.8,254" fill="none" stroke="#0c0c0c" stroke-width="1.03" />
<path d="M271.5,160 Q271.5,157.7 274,157.7 L277.6,157.7 Q278.6,162 277.8,166 Q276.5,168.4 274.3,168.2 Q271.5,167.8 271.5,163 Z" fill="#fff" stroke="#0c0c0c" stroke-width="1.28" />
<ellipse cx="272.2" cy="205.9" rx="3.6" ry="6.6" fill="#fff" stroke="#0c0c0c" stroke-width="1.28" />
<path d="M272.47,273.73 L272.00,271.19 L271.55,268.61 L271.12,265.97 L270.72,263.29 L270.34,260.56 L269.98,257.79 L269.64,254.99 L269.33,252.14 L269.04,249.27 L268.77,246.36 L268.53,243.43 L268.32,240.46 L268.13,237.48 L267.96,234.48 L267.82,231.46 L267.70,228.42 L267.62,225.38 L267.55,222.32 L267.51,219.26 L267.50,216.20 L267.51,213.14 L267.55,210.08 L267.62,207.02 L267.70,203.98 L267.82,200.94 L267.96,197.92 L268.13,194.92 L268.32,191.94 L268.53,188.97 L268.77,186.04 L269.04,183.13 L269.33,180.26 L269.64,177.41 L269.98,174.61 L270.34,171.84 L270.72,169.11 L271.12,166.43 L271.55,163.79 L272.00,161.21 L272.47,158.67" fill="none" stroke="#0c0c0c" stroke-width="2.58" />
<line x1="98.6" y1="185.39" x2="114.0" y2="185.50" stroke="#0c0c0c" stroke-width="1.23" stroke-linecap="butt"/><line x1="116.8" y1="185.52" x2="122.8" y2="185.56" stroke="#0c0c0c" stroke-width="1.23" stroke-linecap="butt"/><line x1="126.0" y1="185.59" x2="131.7" y2="185.63" stroke="#0c0c0c" stroke-width="1.23" stroke-linecap="butt"/><line x1="135.0" y1="185.65" x2="150.4" y2="185.76" stroke="#0c0c0c" stroke-width="1.23" stroke-linecap="butt"/>
<line x1="108.2" y1="205.46" x2="118.0" y2="205.53" stroke="#0c0c0c" stroke-width="1.23" stroke-linecap="butt"/><line x1="121.6" y1="205.56" x2="127.3" y2="205.60" stroke="#0c0c0c" stroke-width="1.23" stroke-linecap="butt"/><line x1="130.9" y1="205.62" x2="136.5" y2="205.66" stroke="#0c0c0c" stroke-width="1.23" stroke-linecap="butt"/><line x1="140.0" y1="205.69" x2="150.4" y2="205.76" stroke="#0c0c0c" stroke-width="1.23" stroke-linecap="butt"/>
<line x1="95.0" y1="215.36" x2="112.0" y2="215.49" stroke="#0c0c0c" stroke-width="1.23" stroke-linecap="butt"/><line x1="115.0" y1="215.51" x2="120.6" y2="215.55" stroke="#0c0c0c" stroke-width="1.23" stroke-linecap="butt"/><line x1="123.5" y1="215.57" x2="129.0" y2="215.61" stroke="#0c0c0c" stroke-width="1.23" stroke-linecap="butt"/><line x1="133.0" y1="215.64" x2="150.4" y2="215.76" stroke="#0c0c0c" stroke-width="1.23" stroke-linecap="butt"/>
<line x1="90.8" y1="225.33" x2="114.0" y2="225.50" stroke="#0c0c0c" stroke-width="1.23" stroke-linecap="butt"/><line x1="116.8" y1="225.52" x2="121.6" y2="225.56" stroke="#0c0c0c" stroke-width="1.23" stroke-linecap="butt"/><line x1="124.4" y1="225.58" x2="130.0" y2="225.62" stroke="#0c0c0c" stroke-width="1.23" stroke-linecap="butt"/><line x1="133.0" y1="225.64" x2="150.4" y2="225.76" stroke="#0c0c0c" stroke-width="1.23" stroke-linecap="butt"/>
<line x1="102.8" y1="245.32" x2="114.0" y2="245.40" stroke="#0c0c0c" stroke-width="1.23" stroke-linecap="butt"/><line x1="118.7" y1="245.43" x2="123.5" y2="245.47" stroke="#0c0c0c" stroke-width="1.23" stroke-linecap="butt"/><line x1="127.3" y1="245.50" x2="132.0" y2="245.53" stroke="#0c0c0c" stroke-width="1.23" stroke-linecap="butt"/><line x1="135.8" y1="245.56" x2="150.4" y2="245.66" stroke="#0c0c0c" stroke-width="1.23" stroke-linecap="butt"/>
<line x1="267.5" y1="186.61" x2="294.5" y2="186.80" stroke="#0c0c0c" stroke-width="1.23" stroke-linecap="butt"/><line x1="298.0" y1="186.83" x2="303.0" y2="186.86" stroke="#0c0c0c" stroke-width="1.23" stroke-linecap="butt"/><line x1="306.7" y1="186.89" x2="329.4" y2="187.05" stroke="#0c0c0c" stroke-width="1.23" stroke-linecap="butt"/><line x1="332.2" y1="187.07" x2="337.9" y2="187.11" stroke="#0c0c0c" stroke-width="1.23" stroke-linecap="butt"/><line x1="340.8" y1="187.13" x2="346.4" y2="187.17" stroke="#0c0c0c" stroke-width="1.23" stroke-linecap="butt"/><line x1="350.2" y1="187.20" x2="366.8" y2="187.32" stroke="#0c0c0c" stroke-width="1.23" stroke-linecap="butt"/>
<line x1="267.5" y1="206.61" x2="294.5" y2="206.80" stroke="#0c0c0c" stroke-width="1.23" stroke-linecap="butt"/><line x1="298.0" y1="206.83" x2="303.0" y2="206.86" stroke="#0c0c0c" stroke-width="1.23" stroke-linecap="butt"/><line x1="306.7" y1="206.89" x2="329.4" y2="207.05" stroke="#0c0c0c" stroke-width="1.23" stroke-linecap="butt"/><line x1="332.2" y1="207.07" x2="337.9" y2="207.11" stroke="#0c0c0c" stroke-width="1.23" stroke-linecap="butt"/><line x1="340.8" y1="207.13" x2="346.4" y2="207.17" stroke="#0c0c0c" stroke-width="1.23" stroke-linecap="butt"/><line x1="350.2" y1="207.20" x2="366.8" y2="207.32" stroke="#0c0c0c" stroke-width="1.23" stroke-linecap="butt"/>
<line x1="267.5" y1="216.61" x2="294.5" y2="216.80" stroke="#0c0c0c" stroke-width="1.23" stroke-linecap="butt"/><line x1="298.0" y1="216.83" x2="303.0" y2="216.86" stroke="#0c0c0c" stroke-width="1.23" stroke-linecap="butt"/><line x1="306.7" y1="216.89" x2="329.4" y2="217.05" stroke="#0c0c0c" stroke-width="1.23" stroke-linecap="butt"/><line x1="332.2" y1="217.07" x2="337.9" y2="217.11" stroke="#0c0c0c" stroke-width="1.23" stroke-linecap="butt"/><line x1="340.8" y1="217.13" x2="346.4" y2="217.17" stroke="#0c0c0c" stroke-width="1.23" stroke-linecap="butt"/><line x1="350.2" y1="217.20" x2="366.8" y2="217.32" stroke="#0c0c0c" stroke-width="1.23" stroke-linecap="butt"/>
<line x1="267.5" y1="226.61" x2="294.5" y2="226.80" stroke="#0c0c0c" stroke-width="1.23" stroke-linecap="butt"/><line x1="298.0" y1="226.83" x2="303.0" y2="226.86" stroke="#0c0c0c" stroke-width="1.23" stroke-linecap="butt"/><line x1="306.7" y1="226.89" x2="329.4" y2="227.05" stroke="#0c0c0c" stroke-width="1.23" stroke-linecap="butt"/><line x1="332.2" y1="227.07" x2="337.9" y2="227.11" stroke="#0c0c0c" stroke-width="1.23" stroke-linecap="butt"/><line x1="340.8" y1="227.13" x2="346.4" y2="227.17" stroke="#0c0c0c" stroke-width="1.23" stroke-linecap="butt"/><line x1="350.2" y1="227.20" x2="366.8" y2="227.32" stroke="#0c0c0c" stroke-width="1.23" stroke-linecap="butt"/>
<line x1="267.5" y1="246.51" x2="294.5" y2="246.70" stroke="#0c0c0c" stroke-width="1.23" stroke-linecap="butt"/><line x1="298.0" y1="246.73" x2="303.0" y2="246.76" stroke="#0c0c0c" stroke-width="1.23" stroke-linecap="butt"/><line x1="306.7" y1="246.79" x2="329.4" y2="246.95" stroke="#0c0c0c" stroke-width="1.23" stroke-linecap="butt"/><line x1="332.2" y1="246.97" x2="337.9" y2="247.01" stroke="#0c0c0c" stroke-width="1.23" stroke-linecap="butt"/><line x1="340.8" y1="247.03" x2="346.4" y2="247.07" stroke="#0c0c0c" stroke-width="1.23" stroke-linecap="butt"/><line x1="350.2" y1="247.10" x2="366.8" y2="247.22" stroke="#0c0c0c" stroke-width="1.23" stroke-linecap="butt"/>
<line x1="486.0" y1="188.18" x2="594.7" y2="188.96" stroke="#0c0c0c" stroke-width="1.23" stroke-dasharray="22 3.8 5 3.8 5.2 3.8" stroke-dashoffset="43.40" stroke-linecap="butt"/>
<line x1="486.0" y1="208.18" x2="605.7" y2="209.04" stroke="#0c0c0c" stroke-width="1.23" stroke-dasharray="22 3.8 5 3.8 5.2 3.8" stroke-dashoffset="17.40" stroke-linecap="butt"/>
<line x1="486.0" y1="218.18" x2="641.4" y2="219.30" stroke="#0c0c0c" stroke-width="1.23" stroke-dasharray="22 3.8 5 3.8 5.2 3.8" stroke-dashoffset="0.00" stroke-linecap="butt"/>
<line x1="486.0" y1="228.18" x2="589.5" y2="228.92" stroke="#0c0c0c" stroke-width="1.23" stroke-dasharray="22 3.8 5 3.8 5.2 3.8" stroke-dashoffset="3.30" stroke-linecap="butt"/>
<line x1="486.0" y1="248.08" x2="599.5" y2="248.90" stroke="#0c0c0c" stroke-width="1.23" stroke-dasharray="22 3.8 5 3.8 5.2 3.8" stroke-dashoffset="42.30" stroke-linecap="butt"/>
<line x1="649.2" y1="219.20" x2="664.1" y2="219.20" stroke="#0c0c0c" stroke-width="1.23" />
<line x1="672.6" y1="219.20" x2="677.6" y2="219.20" stroke="#0c0c0c" stroke-width="1.23" />
<line x1="680.5" y1="219.20" x2="685.4" y2="219.20" stroke="#0c0c0c" stroke-width="1.23" />
<line x1="688.2" y1="219.20" x2="690.0" y2="219.20" stroke="#0c0c0c" stroke-width="1.23" />
<line x1="703.2" y1="219.40" x2="731.0" y2="219.60" stroke="#0c0c0c" stroke-width="1.23" stroke-dasharray="5 3.5" stroke-linecap="butt"/>
<path d="M66.6,189.5 L66.6,181 Q66.8,177.9 69.6,177.8 L79,177.6 L79,189.5 Z" fill="#fff" stroke="#0c0c0c" stroke-width="1.28" />
<path d="M66.8,181 Q67,178.2 69.4,178 L69.4,189.4 L66.8,189.4 Z" fill="#888" stroke="#0c0c0c" stroke-width="0.58" />
<path d="M69.4,178.2 L69.4,189.4" fill="none" stroke="#0c0c0c" stroke-width="0.98" />
<path d="M55.2,193.3 L74.1,190.9 Q76,197.5 74,204.7 L55.7,204.7 Z" fill="#fff" stroke="#0c0c0c" stroke-width="1.28" />
<path d="M55.3,206.6 L73,206.6" fill="none" stroke="#0c0c0c" stroke-width="1.18" />
<path d="M54.6,207.3 Q53.2,208 53.2,214.6 Q53.3,222.2 55.5,222.8 L64,223.2 L63.3,210.6 L63.3,207.3 Z" fill="#fff" stroke="#0c0c0c" stroke-width="1.28" />
<path d="M63.3,211.3 L72,214" fill="none" stroke="#0c0c0c" stroke-width="1.18" />
<path d="M64.6,217.2 Q64.4,214.8 66,214.6 L74,214.6 L74,232 L65.3,232 Z" fill="#fff" stroke="#0c0c0c" stroke-width="1.28" />
<path d="M58.6,233.9 L58.6,249.8 Q59,251.8 62,251.8 L77,251.2 L77,233.9 Z" fill="#fff" stroke="#0c0c0c" stroke-width="1.28" />
<path d="M58.8,234 L64,234 L64,236.8 L58.8,236.8 Z" fill="#0c0c0c" stroke="#0c0c0c" stroke-width="0.68" />
<path d="M58.8,239.9 L76,239.9" fill="none" stroke="#0c0c0c" stroke-width="1.18" />
<path d="M64,234 L76,234" fill="none" stroke="#0c0c0c" stroke-width="1.58" />
<path d="M86.60,170.70 C87.63,170.55 88.57,170.60 89.20,171.40 C89.83,172.20 89.83,173.80 90.40,175.50 C90.97,177.20 91.58,179.52 92.60,181.60 C93.62,183.68 95.53,185.60 96.50,188.00 C97.47,190.40 98.02,193.33 98.40,196.00 C98.78,198.67 98.77,201.33 98.80,204.00 C98.83,206.67 98.57,209.00 98.60,212.00 C98.63,215.00 99.03,218.00 99.00,222.00 C98.97,226.00 98.90,232.17 98.40,236.00 C97.90,239.83 97.15,242.08 96.00,245.00 C94.85,247.92 93.17,251.23 91.50,253.50 C89.83,255.77 87.67,258.27 86.00,258.60 C84.33,258.93 82.80,257.60 81.50,255.50 C80.20,253.40 79.08,250.25 78.20,246.00 C77.32,241.75 76.63,235.67 76.20,230.00 C75.77,224.33 75.53,218.00 75.60,212.00 C75.67,206.00 75.95,199.42 76.60,194.00 C77.25,188.58 78.43,183.12 79.50,179.50 C80.57,175.88 81.82,173.77 83.00,172.30 C84.18,170.83 85.57,170.85 86.60,170.70 Z" fill="#fff" stroke="#0c0c0c" stroke-width="1.18" />
<path d="M80.60,177.50 C80.10,179.58 78.32,184.58 77.60,190.00 C76.88,195.42 76.47,203.33 76.30,210.00 C76.13,216.67 76.27,224.17 76.60,230.00 C76.93,235.83 77.43,240.92 78.30,245.00 C79.17,249.08 81.22,252.92 81.80,254.50" fill="none" stroke="#0c0c0c" stroke-width="1.88" />
<path d="M82.40,176.00 C81.93,178.33 80.27,184.33 79.60,190.00 C78.93,195.67 78.55,203.33 78.40,210.00 C78.25,216.67 78.38,224.17 78.70,230.00 C79.02,235.83 79.52,240.83 80.30,245.00 C81.08,249.17 82.88,253.33 83.40,255.00" fill="none" stroke="#0c0c0c" stroke-width="0.98" />
<path d="M82.80,173.50 C82.37,175.08 80.83,179.42 80.20,183.00 C79.57,186.58 79.20,193.00 79.00,195.00" fill="none" stroke="#0c0c0c" stroke-width="1.58" />
<path d="M80.60,186.00 C80.70,187.18 80.63,190.87 81.20,193.10 C81.77,195.33 82.83,199.05 84.00,199.40 C85.17,199.75 87.17,197.10 88.20,195.20 C89.23,193.30 89.83,190.53 90.20,188.00 C90.57,185.47 90.50,182.50 90.40,180.00 C90.30,177.50 89.73,174.17 89.60,173.00" fill="none" stroke="#0c0c0c" stroke-width="1.28" />
<path d="M79.6,199 L82.6,200.5 L84.6,203.5 L83.2,210 L80.2,212 L79.2,205 Z" fill="#0c0c0c" stroke="#0c0c0c" stroke-width="0.68" />
<path d="M86,201.5 L90.6,194 L93.2,190.5 L92.4,197.5 L90.4,203.5 Z" fill="#0c0c0c" stroke="#0c0c0c" stroke-width="0.78" />
<path d="M96.60,188.30 C96.87,189.42 97.87,192.72 98.20,195.00 C98.53,197.28 98.53,200.83 98.60,202.00" fill="none" stroke="#0c0c0c" stroke-width="1.08" />
<path d="M86.5,203.5 C92.5,206 95.2,214 95,222 C94.8,229 93.4,234 90.8,237.5 L88.2,234.5 C89.6,229 90,219 88.2,208 Z" fill="#0c0c0c" stroke="#0c0c0c" stroke-width="0.68" />
<path d="M85.00,203.20 C85.53,204.00 87.43,205.20 88.20,208.00 C88.97,210.80 89.57,216.17 89.60,220.00 C89.63,223.83 89.08,228.33 88.40,231.00 C87.72,233.67 86.47,236.50 85.50,236.00 C84.53,235.50 83.22,231.50 82.60,228.00 C81.98,224.50 81.40,219.13 81.80,215.00 C82.20,210.87 84.47,205.17 85.00,203.20" fill="#fff" stroke="#0c0c0c" stroke-width="1.28" />
<path d="M81.80,241.00 C82.33,240.60 83.72,238.97 85.00,238.60 C86.28,238.23 87.92,238.15 89.50,238.80 C91.08,239.45 93.67,241.88 94.50,242.50" fill="none" stroke="#0c0c0c" stroke-width="1.28" />
<path d="M83.5,237.2 L90.5,236.6 L94.5,240 L88.5,239.2 Z" fill="#0c0c0c" stroke="#0c0c0c" stroke-width="0.78" />
<path d="M82.80,243.00 C82.70,244.00 81.97,246.75 82.20,249.00 C82.43,251.25 83.87,255.25 84.20,256.50" fill="none" stroke="#0c0c0c" stroke-width="1.98" />
<rect x="84" y="182.29999999999998" width="14.599999999999994" height="5.6" rx="1.2" fill="#fff" stroke="#0c0c0c" stroke-width="1.1"/>
<rect x="96.19999999999999" y="182.29999999999998" width="2.4" height="5.6" rx="0.8" fill="#0c0c0c"/>
<rect x="95" y="202.2" width="13.200000000000003" height="5.6" rx="1.2" fill="#fff" stroke="#0c0c0c" stroke-width="1.1"/>
<rect x="105.8" y="202.2" width="2.4" height="5.6" rx="0.8" fill="#0c0c0c"/>
<rect x="78.4" y="222.5" width="12.399999999999991" height="5.6" rx="1.2" fill="#fff" stroke="#0c0c0c" stroke-width="1.1"/>
<rect x="88.39999999999999" y="222.5" width="2.4" height="5.6" rx="0.8" fill="#0c0c0c"/>
<rect x="88.4" y="242.2" width="14.399999999999991" height="5.6" rx="1.2" fill="#fff" stroke="#0c0c0c" stroke-width="1.1"/>
<rect x="100.39999999999999" y="242.2" width="2.4" height="5.6" rx="0.8" fill="#0c0c0c"/>
<rect x="594.75" y="183.20000000000002" width="12.8" height="11.4" rx="2.6" fill="#fff" stroke="#0c0c0c" stroke-width="1.2"/>
<path d="M596.75,183.8 L604.75,183.8 L604.75,185.8 L595.75,185.8 Z" fill="#555"/>
<path d="M603.95,183.20000000000002 Q607.55,183.20000000000002 607.55,186.20000000000002 L607.55,191.60000000000002 Q607.55,194.60000000000002 603.95,194.60000000000002 Q605.35,188.9 603.95,183.20000000000002 Z" fill="#0c0c0c"/>
<line x1="595.8" y1="187.70" x2="604.2" y2="187.70" stroke="#0c0c0c" stroke-width="0.98" />
<line x1="595.8" y1="192.10" x2="604.2" y2="192.10" stroke="#0c0c0c" stroke-width="0.98" />
<rect x="605.45" y="203.25" width="12.8" height="11.4" rx="2.6" fill="#fff" stroke="#0c0c0c" stroke-width="1.2"/>
<path d="M607.45,203.85 L615.45,203.85 L615.45,205.85 L606.45,205.85 Z" fill="#555"/>
<path d="M614.6500000000001,203.25 Q618.25,203.25 618.25,206.25 L618.25,211.65 Q618.25,214.65 614.6500000000001,214.65 Q616.0500000000001,208.95 614.6500000000001,203.25 Z" fill="#0c0c0c"/>
<line x1="606.5" y1="207.75" x2="615.0" y2="207.75" stroke="#0c0c0c" stroke-width="0.98" />
<line x1="606.5" y1="212.15" x2="615.0" y2="212.15" stroke="#0c0c0c" stroke-width="0.98" />
<rect x="589.6" y="223.20000000000002" width="12.8" height="11.4" rx="2.6" fill="#fff" stroke="#0c0c0c" stroke-width="1.2"/>
<path d="M591.6,223.8 L599.6,223.8 L599.6,225.8 L590.6,225.8 Z" fill="#555"/>
<path d="M598.8000000000001,223.20000000000002 Q602.4,223.20000000000002 602.4,226.20000000000002 L602.4,231.60000000000002 Q602.4,234.60000000000002 598.8000000000001,234.60000000000002 Q600.2,228.9 598.8000000000001,223.20000000000002 Z" fill="#0c0c0c"/>
<line x1="590.6" y1="227.70" x2="599.1" y2="227.70" stroke="#0c0c0c" stroke-width="0.98" />
<line x1="590.6" y1="232.10" x2="599.1" y2="232.10" stroke="#0c0c0c" stroke-width="0.98" />
<rect x="599.6" y="243.10000000000002" width="12.8" height="11.4" rx="2.6" fill="#fff" stroke="#0c0c0c" stroke-width="1.2"/>
<path d="M601.6,243.70000000000002 L609.6,243.70000000000002 L609.6,245.70000000000002 L600.6,245.70000000000002 Z" fill="#555"/>
<path d="M608.8000000000001,243.10000000000002 Q612.4,243.10000000000002 612.4,246.10000000000002 L612.4,251.50000000000003 Q612.4,254.50000000000003 608.8000000000001,254.50000000000003 Q610.2,248.8 608.8000000000001,243.10000000000002 Z" fill="#0c0c0c"/>
<line x1="600.6" y1="247.60" x2="609.1" y2="247.60" stroke="#0c0c0c" stroke-width="0.98" />
<line x1="600.6" y1="252.00" x2="609.1" y2="252.00" stroke="#0c0c0c" stroke-width="0.98" />
<ellipse cx="645.3" cy="219.1" rx="3.7" ry="9.8" fill="#2a2a2a" stroke="#0c0c0c" stroke-width="1.58" />
<ellipse cx="644.4" cy="219.1" rx="1.1" ry="6.8" fill="#6a6a6a" stroke="none" stroke-width="0.00" />
<ellipse cx="646.5999999999999" cy="219.1" rx="0.7" ry="5.5" fill="#555" stroke="none" stroke-width="0.00" />
<path d="M645.5999999999999,211.0 l1.3,2.8 l-2.6,0 Z M645.5999999999999,227.2 l1.3,-2.8 l-2.6,0 Z" fill="#f0f0f0"/>
<ellipse cx="668.4" cy="219.1" rx="3.7" ry="9.8" fill="#2a2a2a" stroke="#0c0c0c" stroke-width="1.58" />
<ellipse cx="667.5" cy="219.1" rx="1.1" ry="6.8" fill="#6a6a6a" stroke="none" stroke-width="0.00" />
<ellipse cx="669.6999999999999" cy="219.1" rx="0.7" ry="5.5" fill="#555" stroke="none" stroke-width="0.00" />
<path d="M668.6999999999999,211.0 l1.3,2.8 l-2.6,0 Z M668.6999999999999,227.2 l1.3,-2.8 l-2.6,0 Z" fill="#f0f0f0"/>
<path d="M680.6,191.2 L686.3,201.2" fill="none" stroke="#0c0c0c" stroke-width="2.78" />
<path d="M681,192.2 L685.8,200.4" fill="none" stroke="#fff" stroke-width="0.68" stroke-dasharray="1.5 1.2"/>
<ellipse cx="679.4" cy="188.2" rx="1.6" ry="2.9" transform="rotate(-28 679.4 188.2)" fill="#fff" stroke="#0c0c0c" stroke-width="1.3"/>
<line x1="686.3" y1="201.20" x2="692.8" y2="211.40" stroke="#0c0c0c" stroke-width="1.08" />
<path d="M697,211.2 L700,211.2 Q702,211.2 702,214 L702,224 Q702,226.8 700,226.8 L697,226.8 Q689.6,226.8 689.6,219 Q689.6,211.2 697,211.2 Z" fill="#fff" stroke="#0c0c0c" stroke-width="1.28" />
<path d="M693.20,211.80 C692.87,212.33 691.60,213.80 691.20,215.00 C690.80,216.20 690.80,217.67 690.80,219.00 C690.80,220.33 690.80,221.77 691.20,223.00 C691.60,224.23 692.87,225.83 693.20,226.40" fill="none" stroke="#0c0c0c" stroke-width="0.98" />
<path d="M694.3,211.2 L699.5,211.2 Q702,211.5 702,214.5 L702,217.6 L703,219.2 L702,220.8 L702,224 Q702,227.2 699.5,227.2 L694.3,227.2 Q696.2,219 694.3,211.2 Z" fill="#0c0c0c" stroke="#0c0c0c" stroke-width="0.68" />
<ellipse cx="696.0" cy="213.9" rx="1.2" ry="1.3" fill="#fff" stroke="none" stroke-width="0.00" />
<ellipse cx="695.8" cy="225.0" rx="1.2" ry="1.3" fill="#fff" stroke="none" stroke-width="0.00" />
<rect x="694.6" y="218.2" width="3.2" height="2.0" fill="#fff"/>
<line x1="690.6" y1="219.20" x2="697.6" y2="219.20" stroke="#555" stroke-width="0.88" />
<path d="M738.5,199.6 L762.3,201.9 L763,237.3 L740,240 Q733,239.8 731.5,230 Q730.2,220 732,209 Q733.5,199.2 738.5,199.6 Z" fill="#fff" stroke="#0c0c0c" stroke-width="1.38" />
<path d="M737.3,199.2 Q733,201 731.6,210 Q730.3,220 731.6,230 Q733,239 737,240" fill="none" stroke="#0c0c0c" stroke-width="2.58" />
<ellipse cx="763" cy="219.6" rx="6.6" ry="17.8" fill="#fff" stroke="#0c0c0c" stroke-width="1.38" />
<ellipse cx="764.2" cy="220" rx="3.6" ry="14.2" fill="none" stroke="#0c0c0c" stroke-width="1.18" />
<ellipse cx="29.7" cy="163.4" rx="14.2" ry="14.9" fill="none" stroke="#e2393b" stroke-width="3.9"/>
<path d="M29.9,166.3 L34.1,154.6 L28.6,158.6" fill="none" stroke="#111" stroke-width="2.08" />
<line x1="23.1" y1="172.30" x2="36.2" y2="172.30" stroke="#0c0c0c" stroke-width="1.48" />
<line x1="36.2" y1="172.30" x2="61.0" y2="198.00" stroke="#0c0c0c" stroke-width="1.28" />
<line x1="132.8" y1="70.60" x2="144.4" y2="70.60" stroke="#0c0c0c" stroke-width="1.48" />
<line x1="144.4" y1="70.60" x2="187.0" y2="131.00" stroke="#0c0c0c" stroke-width="1.28" />
<line x1="380.7" y1="22.60" x2="393.8" y2="22.60" stroke="#0c0c0c" stroke-width="1.48" />
<line x1="393.8" y1="22.60" x2="428.2" y2="86.80" stroke="#0c0c0c" stroke-width="1.28" />
<line x1="642.3" y1="194.20" x2="657.2" y2="194.20" stroke="#0c0c0c" stroke-width="1.48" />
<line x1="642.6" y1="194.20" x2="607.6" y2="189.30" stroke="#0c0c0c" stroke-width="1.18" />
<line x1="642.6" y1="194.20" x2="617.5" y2="206.50" stroke="#0c0c0c" stroke-width="1.18" />
<line x1="642.6" y1="194.20" x2="601.6" y2="226.50" stroke="#0c0c0c" stroke-width="1.18" />
<line x1="642.6" y1="194.20" x2="611.6" y2="246.50" stroke="#0c0c0c" stroke-width="1.18" />
<line x1="623.3" y1="265.20" x2="636.8" y2="265.20" stroke="#0c0c0c" stroke-width="1.48" />
<line x1="636.8" y1="265.20" x2="645.3" y2="229.50" stroke="#0c0c0c" stroke-width="1.18" />
<line x1="636.8" y1="265.20" x2="665.5" y2="228.60" stroke="#0c0c0c" stroke-width="1.18" />
<line x1="701.8" y1="167.70" x2="713.8" y2="167.70" stroke="#0c0c0c" stroke-width="1.48" />
<line x1="701.8" y1="167.70" x2="682.6" y2="192.80" stroke="#0c0c0c" stroke-width="1.18" />
<line x1="708.3" y1="262.90" x2="720.8" y2="262.90" stroke="#0c0c0c" stroke-width="1.48" />
<line x1="708.3" y1="262.90" x2="694.5" y2="226.80" stroke="#0c0c0c" stroke-width="1.18" />
<line x1="766.8" y1="168.10" x2="779.9" y2="168.10" stroke="#0c0c0c" stroke-width="1.48" />
<line x1="766.8" y1="168.10" x2="749.2" y2="213.50" stroke="#0c0c0c" stroke-width="1.18" />
<g font-family="Liberation Sans, sans-serif" font-style="italic" fill="#111" stroke="#111" stroke-width="0.35" style="filter:grayscale(1)"><text x="134.2" y="66" font-size="19">2</text><text x="382.9" y="17.8" font-size="19">3</text><text x="648.5" y="188.8" font-size="19">4</text><text x="625.8" y="261" font-size="19">5</text><text x="705.3" y="162.8" font-size="19">6</text><text x="711.8" y="258.5" font-size="19">7</text><text x="770.1" y="163.8" font-size="19">8</text></g>
</svg>
</body></html>
